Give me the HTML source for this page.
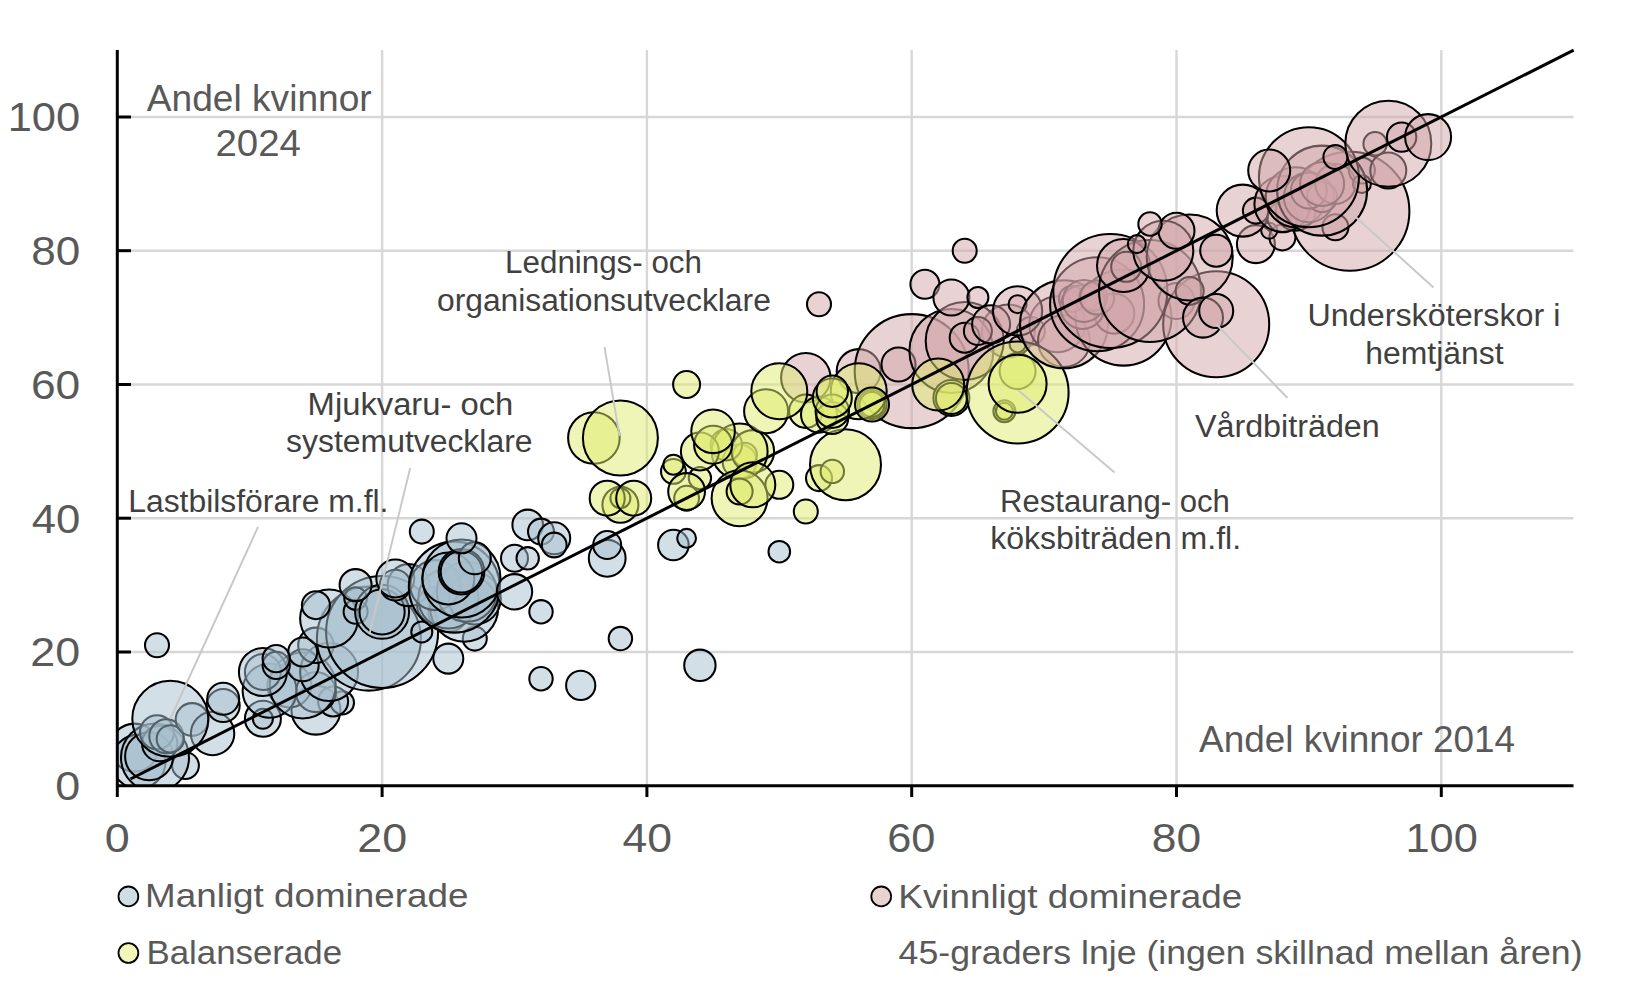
<!DOCTYPE html>
<html lang="sv"><head><meta charset="utf-8"><title>Andel kvinnor 2014 och 2024</title>
<style>
html,body{margin:0;padding:0;background:#fff;}
body{width:1647px;height:990px;overflow:hidden;font-family:"Liberation Sans",sans-serif;}
svg{display:block}
text{font-family:"Liberation Sans",sans-serif;}
.ax{font-size:41px;fill:#595959}
.ttl{font-size:37.3px;fill:#595959}
.lab{font-size:31px;fill:#404040}
.leg{font-size:34px;fill:#595959}
.b{stroke:#000;stroke-width:2.05}
</style></head><body>
<svg width="1647" height="990" viewBox="0 0 1647 990">
<defs><clipPath id="plot"><rect x="117.3" y="40" width="1470" height="745.7"/></clipPath></defs>
<rect width="1647" height="990" fill="#fff"/>
<g stroke="#d7d7d7" stroke-width="2.4" fill="none"><line x1="382.1" y1="50" x2="382.1" y2="785.7"/><line x1="117.3" y1="652.0" x2="1573.5" y2="652.0"/><line x1="646.9" y1="50" x2="646.9" y2="785.7"/><line x1="117.3" y1="518.2" x2="1573.5" y2="518.2"/><line x1="911.7" y1="50" x2="911.7" y2="785.7"/><line x1="117.3" y1="384.5" x2="1573.5" y2="384.5"/><line x1="1176.5" y1="50" x2="1176.5" y2="785.7"/><line x1="117.3" y1="250.7" x2="1573.5" y2="250.7"/><line x1="1441.3" y1="50" x2="1441.3" y2="785.7"/><line x1="117.3" y1="117.0" x2="1573.5" y2="117.0"/></g>
<g class="b" clip-path="url(#plot)">
<circle cx="185.5" cy="765.6" r="13.4" fill="rgba(167,191,205,0.50)"/>
<circle cx="134.5" cy="747.6" r="24.0" fill="rgba(167,191,205,0.50)"/>
<circle cx="138.5" cy="761.6" r="27.0" fill="rgba(167,191,205,0.50)"/>
<circle cx="155.0" cy="757.6" r="34.0" fill="rgba(167,191,205,0.50)"/>
<circle cx="149.1" cy="756.3" r="24.0" fill="rgba(167,191,205,0.50)"/>
<circle cx="159.7" cy="743.6" r="17.7" fill="rgba(167,191,205,0.50)"/>
<circle cx="157.0" cy="732.2" r="17.0" fill="rgba(167,191,205,0.50)"/>
<circle cx="166.3" cy="736.2" r="17.0" fill="rgba(167,191,205,0.50)"/>
<circle cx="170.3" cy="738.9" r="13.6" fill="rgba(167,191,205,0.50)"/>
<circle cx="192.1" cy="719.5" r="16.4" fill="rgba(167,191,205,0.50)"/>
<circle cx="212.6" cy="733.5" r="21.7" fill="rgba(167,191,205,0.50)"/>
<circle cx="223.2" cy="705.5" r="16.5" fill="rgba(167,191,205,0.50)"/>
<circle cx="170.3" cy="718.8" r="38.0" fill="rgba(167,191,205,0.50)"/>
<circle cx="223.2" cy="698.8" r="16.0" fill="rgba(167,191,205,0.50)"/>
<circle cx="157.0" cy="645.3" r="12.0" fill="rgba(167,191,205,0.50)"/>
<circle cx="262.9" cy="718.8" r="18.0" fill="rgba(167,191,205,0.50)"/>
<circle cx="262.9" cy="718.8" r="10.0" fill="rgba(167,191,205,0.50)"/>
<circle cx="315.9" cy="710.1" r="24.5" fill="rgba(167,191,205,0.50)"/>
<circle cx="342.4" cy="702.8" r="11.6" fill="rgba(167,191,205,0.50)"/>
<circle cx="333.1" cy="701.4" r="15.0" fill="rgba(167,191,205,0.50)"/>
<circle cx="289.4" cy="685.4" r="22.0" fill="rgba(167,191,205,0.50)"/>
<circle cx="315.9" cy="692.1" r="20.0" fill="rgba(167,191,205,0.50)"/>
<circle cx="269.6" cy="690.7" r="27.0" fill="rgba(167,191,205,0.50)"/>
<circle cx="302.7" cy="685.4" r="33.0" fill="rgba(167,191,205,0.50)"/>
<circle cx="329.1" cy="672.0" r="29.0" fill="rgba(167,191,205,0.50)"/>
<circle cx="262.9" cy="672.0" r="18.0" fill="rgba(167,191,205,0.50)"/>
<circle cx="262.9" cy="672.0" r="24.0" fill="rgba(167,191,205,0.50)"/>
<circle cx="302.7" cy="665.3" r="16.0" fill="rgba(167,191,205,0.50)"/>
<circle cx="276.2" cy="665.3" r="13.6" fill="rgba(167,191,205,0.50)"/>
<circle cx="315.9" cy="645.3" r="17.7" fill="rgba(167,191,205,0.50)"/>
<circle cx="302.7" cy="652.0" r="14.5" fill="rgba(167,191,205,0.50)"/>
<circle cx="276.2" cy="658.6" r="13.6" fill="rgba(167,191,205,0.50)"/>
<circle cx="368.9" cy="638.6" r="52.0" fill="rgba(167,191,205,0.50)"/>
<circle cx="382.1" cy="631.9" r="56.0" fill="rgba(167,191,205,0.50)"/>
<circle cx="329.1" cy="618.5" r="29.0" fill="rgba(167,191,205,0.50)"/>
<circle cx="315.9" cy="605.2" r="14.0" fill="rgba(167,191,205,0.50)"/>
<circle cx="355.6" cy="611.8" r="12.0" fill="rgba(167,191,205,0.50)"/>
<circle cx="355.6" cy="598.5" r="11.3" fill="rgba(167,191,205,0.50)"/>
<circle cx="382.1" cy="611.8" r="27.0" fill="rgba(167,191,205,0.50)"/>
<circle cx="382.1" cy="611.8" r="22.6" fill="rgba(167,191,205,0.50)"/>
<circle cx="408.6" cy="585.1" r="21.0" fill="rgba(167,191,205,0.50)"/>
<circle cx="395.3" cy="585.1" r="15.4" fill="rgba(167,191,205,0.50)"/>
<circle cx="395.3" cy="578.4" r="19.0" fill="rgba(167,191,205,0.50)"/>
<circle cx="355.6" cy="585.1" r="16.0" fill="rgba(167,191,205,0.50)"/>
<circle cx="421.8" cy="631.9" r="10.5" fill="rgba(167,191,205,0.50)"/>
<circle cx="474.8" cy="638.6" r="12.0" fill="rgba(167,191,205,0.50)"/>
<circle cx="448.3" cy="611.8" r="20.0" fill="rgba(167,191,205,0.50)"/>
<circle cx="435.1" cy="605.2" r="18.0" fill="rgba(167,191,205,0.50)"/>
<circle cx="464.2" cy="607.8" r="34.0" fill="rgba(167,191,205,0.50)"/>
<circle cx="448.3" cy="598.5" r="30.0" fill="rgba(167,191,205,0.50)"/>
<circle cx="474.8" cy="598.5" r="26.0" fill="rgba(167,191,205,0.50)"/>
<circle cx="435.1" cy="585.1" r="25.0" fill="rgba(167,191,205,0.50)"/>
<circle cx="466.8" cy="591.8" r="30.0" fill="rgba(167,191,205,0.50)"/>
<circle cx="454.3" cy="587.1" r="45.5" fill="rgba(167,191,205,0.50)"/>
<circle cx="461.5" cy="578.4" r="39.0" fill="rgba(167,191,205,0.50)"/>
<circle cx="448.3" cy="578.4" r="26.0" fill="rgba(167,191,205,0.50)"/>
<circle cx="461.5" cy="571.7" r="22.8" fill="rgba(167,191,205,0.50)"/>
<circle cx="461.5" cy="571.7" r="20.8" fill="rgba(167,191,205,0.50)"/>
<circle cx="474.8" cy="558.3" r="16.0" fill="rgba(167,191,205,0.50)"/>
<circle cx="461.5" cy="538.3" r="15.0" fill="rgba(167,191,205,0.50)"/>
<circle cx="421.8" cy="531.6" r="12.0" fill="rgba(167,191,205,0.50)"/>
<circle cx="448.3" cy="658.6" r="15.0" fill="rgba(167,191,205,0.50)"/>
<circle cx="514.5" cy="591.8" r="17.7" fill="rgba(167,191,205,0.50)"/>
<circle cx="541.0" cy="611.8" r="11.7" fill="rgba(167,191,205,0.50)"/>
<circle cx="514.5" cy="558.3" r="13.5" fill="rgba(167,191,205,0.50)"/>
<circle cx="527.7" cy="558.3" r="11.2" fill="rgba(167,191,205,0.50)"/>
<circle cx="527.7" cy="524.9" r="15.3" fill="rgba(167,191,205,0.50)"/>
<circle cx="541.0" cy="531.6" r="13.0" fill="rgba(167,191,205,0.50)"/>
<circle cx="554.2" cy="538.3" r="16.0" fill="rgba(167,191,205,0.50)"/>
<circle cx="554.2" cy="545.0" r="12.4" fill="rgba(167,191,205,0.50)"/>
<circle cx="607.2" cy="558.3" r="18.4" fill="rgba(167,191,205,0.50)"/>
<circle cx="607.2" cy="545.0" r="14.0" fill="rgba(167,191,205,0.50)"/>
<circle cx="673.4" cy="545.0" r="15.3" fill="rgba(167,191,205,0.50)"/>
<circle cx="686.6" cy="538.3" r="9.4" fill="rgba(167,191,205,0.50)"/>
<circle cx="620.4" cy="638.6" r="11.7" fill="rgba(167,191,205,0.50)"/>
<circle cx="541.0" cy="678.7" r="11.7" fill="rgba(167,191,205,0.50)"/>
<circle cx="580.7" cy="685.4" r="14.6" fill="rgba(167,191,205,0.50)"/>
<circle cx="699.9" cy="665.3" r="15.7" fill="rgba(167,191,205,0.50)"/>
<circle cx="779.3" cy="551.7" r="10.8" fill="rgba(167,191,205,0.50)"/>
<circle cx="805.8" cy="377.8" r="24.7" fill="rgba(209,165,169,0.50)"/>
<circle cx="858.7" cy="371.1" r="22.0" fill="rgba(209,165,169,0.50)"/>
<circle cx="1008.4" cy="331.0" r="26.5" fill="rgba(209,165,169,0.50)"/>
<circle cx="1017.6" cy="344.4" r="8.0" fill="rgba(209,165,169,0.50)"/>
<circle cx="911.7" cy="371.1" r="57.0" fill="rgba(209,165,169,0.50)"/>
<circle cx="898.5" cy="364.4" r="17.0" fill="rgba(209,165,169,0.50)"/>
<circle cx="951.4" cy="351.0" r="42.0" fill="rgba(209,165,169,0.50)"/>
<circle cx="964.7" cy="341.0" r="39.0" fill="rgba(209,165,169,0.50)"/>
<circle cx="964.7" cy="337.7" r="15.0" fill="rgba(209,165,169,0.50)"/>
<circle cx="977.9" cy="331.0" r="14.0" fill="rgba(209,165,169,0.50)"/>
<circle cx="991.1" cy="324.3" r="19.0" fill="rgba(209,165,169,0.50)"/>
<circle cx="819.0" cy="304.2" r="12.0" fill="rgba(209,165,169,0.50)"/>
<circle cx="964.7" cy="250.7" r="12.0" fill="rgba(209,165,169,0.50)"/>
<circle cx="924.9" cy="284.2" r="14.5" fill="rgba(209,165,169,0.50)"/>
<circle cx="951.4" cy="297.5" r="18.0" fill="rgba(209,165,169,0.50)"/>
<circle cx="977.9" cy="297.5" r="10.5" fill="rgba(209,165,169,0.50)"/>
<circle cx="1030.9" cy="331.0" r="14.0" fill="rgba(209,165,169,0.50)"/>
<circle cx="1057.3" cy="324.3" r="28.0" fill="rgba(209,165,169,0.50)"/>
<circle cx="1064.0" cy="341.0" r="26.0" fill="rgba(209,165,169,0.50)"/>
<circle cx="1017.6" cy="310.9" r="24.6" fill="rgba(209,165,169,0.50)"/>
<circle cx="1017.6" cy="304.2" r="9.0" fill="rgba(209,165,169,0.50)"/>
<circle cx="593.9" cy="438.0" r="25.8" fill="rgba(224,235,112,0.50)"/>
<circle cx="620.4" cy="438.0" r="37.5" fill="rgba(224,235,112,0.50)"/>
<circle cx="686.6" cy="384.5" r="13.5" fill="rgba(224,235,112,0.50)"/>
<circle cx="673.4" cy="471.4" r="12.4" fill="rgba(224,235,112,0.50)"/>
<circle cx="673.4" cy="464.7" r="10.0" fill="rgba(224,235,112,0.50)"/>
<circle cx="699.9" cy="478.1" r="11.2" fill="rgba(224,235,112,0.50)"/>
<circle cx="686.6" cy="498.2" r="12.4" fill="rgba(224,235,112,0.50)"/>
<circle cx="686.6" cy="491.5" r="18.4" fill="rgba(224,235,112,0.50)"/>
<circle cx="620.4" cy="504.8" r="18.0" fill="rgba(224,235,112,0.50)"/>
<circle cx="620.4" cy="498.2" r="10.0" fill="rgba(224,235,112,0.50)"/>
<circle cx="607.2" cy="498.2" r="17.5" fill="rgba(224,235,112,0.50)"/>
<circle cx="633.7" cy="498.2" r="17.5" fill="rgba(224,235,112,0.50)"/>
<circle cx="739.6" cy="461.4" r="17.0" fill="rgba(224,235,112,0.50)"/>
<circle cx="744.9" cy="454.7" r="12.0" fill="rgba(224,235,112,0.50)"/>
<circle cx="726.3" cy="444.7" r="15.7" fill="rgba(224,235,112,0.50)"/>
<circle cx="752.8" cy="451.4" r="21.3" fill="rgba(224,235,112,0.50)"/>
<circle cx="739.6" cy="451.4" r="28.0" fill="rgba(224,235,112,0.50)"/>
<circle cx="699.9" cy="451.4" r="19.0" fill="rgba(224,235,112,0.50)"/>
<circle cx="713.1" cy="444.7" r="19.0" fill="rgba(224,235,112,0.50)"/>
<circle cx="713.1" cy="431.3" r="21.8" fill="rgba(224,235,112,0.50)"/>
<circle cx="779.3" cy="484.8" r="14.0" fill="rgba(224,235,112,0.50)"/>
<circle cx="739.6" cy="498.2" r="28.0" fill="rgba(224,235,112,0.50)"/>
<circle cx="739.6" cy="491.5" r="13.0" fill="rgba(224,235,112,0.50)"/>
<circle cx="752.8" cy="484.8" r="22.5" fill="rgba(224,235,112,0.50)"/>
<circle cx="766.1" cy="411.2" r="22.0" fill="rgba(224,235,112,0.50)"/>
<circle cx="805.8" cy="511.5" r="12.0" fill="rgba(224,235,112,0.50)"/>
<circle cx="819.0" cy="478.1" r="13.0" fill="rgba(224,235,112,0.50)"/>
<circle cx="832.3" cy="471.4" r="11.7" fill="rgba(224,235,112,0.50)"/>
<circle cx="845.5" cy="464.7" r="35.5" fill="rgba(224,235,112,0.50)"/>
<circle cx="872.0" cy="404.5" r="14.6" fill="rgba(224,235,112,0.50)"/>
<circle cx="872.0" cy="404.5" r="12.5" fill="rgba(224,235,112,0.50)"/>
<circle cx="858.7" cy="391.2" r="28.0" fill="rgba(224,235,112,0.50)"/>
<circle cx="805.8" cy="411.2" r="16.7" fill="rgba(224,235,112,0.50)"/>
<circle cx="819.0" cy="414.6" r="18.0" fill="rgba(224,235,112,0.50)"/>
<circle cx="779.3" cy="391.2" r="28.0" fill="rgba(224,235,112,0.50)"/>
<circle cx="832.3" cy="417.9" r="16.0" fill="rgba(224,235,112,0.50)"/>
<circle cx="832.3" cy="411.2" r="16.7" fill="rgba(224,235,112,0.50)"/>
<circle cx="832.3" cy="397.9" r="19.5" fill="rgba(224,235,112,0.50)"/>
<circle cx="832.3" cy="391.2" r="15.7" fill="rgba(224,235,112,0.50)"/>
<circle cx="872.0" cy="404.5" r="17.0" fill="rgba(224,235,112,0.50)"/>
<circle cx="1017.6" cy="371.1" r="18.0" fill="rgba(224,235,112,0.50)"/>
<circle cx="1004.4" cy="411.2" r="11.0" fill="rgba(224,235,112,0.50)"/>
<circle cx="1004.4" cy="411.2" r="8.5" fill="rgba(224,235,112,0.50)"/>
<circle cx="951.4" cy="397.9" r="18.0" fill="rgba(224,235,112,0.50)"/>
<circle cx="951.4" cy="398.5" r="15.5" fill="rgba(224,235,112,0.50)"/>
<circle cx="938.2" cy="384.5" r="26.0" fill="rgba(224,235,112,0.50)"/>
<circle cx="1017.6" cy="392.5" r="51.0" fill="rgba(224,235,112,0.50)"/>
<circle cx="1017.6" cy="383.8" r="29.0" fill="rgba(224,235,112,0.50)"/>
<circle cx="1064.0" cy="324.3" r="44.0" fill="rgba(209,165,169,0.50)"/>
<circle cx="1123.5" cy="317.6" r="48.0" fill="rgba(209,165,169,0.50)"/>
<circle cx="1114.3" cy="313.6" r="20.0" fill="rgba(209,165,169,0.50)"/>
<circle cx="1071.9" cy="298.9" r="13.0" fill="rgba(209,165,169,0.50)"/>
<circle cx="1082.5" cy="306.9" r="22.0" fill="rgba(209,165,169,0.50)"/>
<circle cx="1093.1" cy="296.9" r="14.0" fill="rgba(209,165,169,0.50)"/>
<circle cx="1083.8" cy="300.9" r="21.0" fill="rgba(209,165,169,0.50)"/>
<circle cx="1097.1" cy="297.5" r="17.0" fill="rgba(209,165,169,0.50)"/>
<circle cx="1176.5" cy="300.9" r="18.0" fill="rgba(209,165,169,0.50)"/>
<circle cx="1216.2" cy="324.3" r="53.0" fill="rgba(209,165,169,0.50)"/>
<circle cx="1097.1" cy="304.2" r="47.0" fill="rgba(209,165,169,0.50)"/>
<circle cx="1110.3" cy="290.9" r="57.0" fill="rgba(209,165,169,0.50)"/>
<circle cx="1150.0" cy="290.9" r="51.0" fill="rgba(209,165,169,0.50)"/>
<circle cx="1126.2" cy="266.8" r="15.0" fill="rgba(209,165,169,0.50)"/>
<circle cx="1123.5" cy="265.5" r="26.5" fill="rgba(209,165,169,0.50)"/>
<circle cx="1189.7" cy="290.9" r="14.0" fill="rgba(209,165,169,0.50)"/>
<circle cx="1189.7" cy="257.4" r="43.0" fill="rgba(209,165,169,0.50)"/>
<circle cx="1163.3" cy="250.7" r="30.0" fill="rgba(209,165,169,0.50)"/>
<circle cx="1176.5" cy="230.7" r="18.0" fill="rgba(209,165,169,0.50)"/>
<circle cx="1150.0" cy="224.0" r="11.7" fill="rgba(209,165,169,0.50)"/>
<circle cx="1136.8" cy="244.1" r="9.0" fill="rgba(209,165,169,0.50)"/>
<circle cx="1203.0" cy="317.6" r="20.0" fill="rgba(209,165,169,0.50)"/>
<circle cx="1216.2" cy="310.9" r="17.0" fill="rgba(209,165,169,0.50)"/>
<circle cx="1216.2" cy="250.7" r="16.0" fill="rgba(209,165,169,0.50)"/>
<circle cx="1255.9" cy="244.1" r="19.0" fill="rgba(209,165,169,0.50)"/>
<circle cx="1282.4" cy="237.4" r="13.0" fill="rgba(209,165,169,0.50)"/>
<circle cx="1269.2" cy="230.7" r="8.0" fill="rgba(209,165,169,0.50)"/>
<circle cx="1242.7" cy="210.6" r="26.0" fill="rgba(209,165,169,0.50)"/>
<circle cx="1255.9" cy="210.6" r="13.0" fill="rgba(209,165,169,0.50)"/>
<circle cx="1349.9" cy="211.3" r="59.5" fill="rgba(209,165,169,0.50)"/>
<circle cx="1335.4" cy="227.3" r="13.0" fill="rgba(209,165,169,0.50)"/>
<circle cx="1282.4" cy="217.3" r="15.0" fill="rgba(209,165,169,0.50)"/>
<circle cx="1295.7" cy="210.6" r="20.0" fill="rgba(209,165,169,0.50)"/>
<circle cx="1282.4" cy="203.9" r="28.0" fill="rgba(209,165,169,0.50)"/>
<circle cx="1295.7" cy="197.2" r="30.0" fill="rgba(209,165,169,0.50)"/>
<circle cx="1308.9" cy="197.2" r="25.0" fill="rgba(209,165,169,0.50)"/>
<circle cx="1322.1" cy="197.2" r="15.0" fill="rgba(209,165,169,0.50)"/>
<circle cx="1308.9" cy="190.6" r="18.0" fill="rgba(209,165,169,0.50)"/>
<circle cx="1335.4" cy="183.9" r="20.0" fill="rgba(209,165,169,0.50)"/>
<circle cx="1322.1" cy="183.9" r="22.0" fill="rgba(209,165,169,0.50)"/>
<circle cx="1361.9" cy="170.5" r="13.0" fill="rgba(209,165,169,0.50)"/>
<circle cx="1361.9" cy="183.9" r="9.0" fill="rgba(209,165,169,0.50)"/>
<circle cx="1322.1" cy="190.6" r="45.0" fill="rgba(209,165,169,0.50)"/>
<circle cx="1308.9" cy="177.2" r="50.0" fill="rgba(209,165,169,0.50)"/>
<circle cx="1269.2" cy="170.5" r="21.0" fill="rgba(209,165,169,0.50)"/>
<circle cx="1335.4" cy="157.1" r="12.0" fill="rgba(209,165,169,0.50)"/>
<circle cx="1375.1" cy="143.7" r="11.7" fill="rgba(209,165,169,0.50)"/>
<circle cx="1388.3" cy="170.5" r="18.0" fill="rgba(209,165,169,0.50)"/>
<circle cx="1388.3" cy="143.7" r="43.0" fill="rgba(209,165,169,0.50)"/>
<circle cx="1401.6" cy="137.1" r="14.7" fill="rgba(209,165,169,0.50)"/>
<circle cx="1428.1" cy="137.1" r="23.0" fill="rgba(209,165,169,0.50)"/>
</g>
<g stroke="#c8c8c8" stroke-width="1.9" fill="none"><path d="M258,527 L170.5,718.5"/><path d="M410.2,468 L369.5,634"/><path d="M604.5,347 L619.5,436"/><path d="M1018.5,390.5 L1114.5,472.5"/><path d="M1216.5,324.5 L1287.5,398"/><path d="M1349.5,211.5 L1433.5,287.5"/></g>
<line x1="130.5" y1="779.0" x2="1573.7" y2="50.1" stroke="#000" stroke-width="3"/>
<g stroke="#000" stroke-width="3" fill="none"><line x1="117.3" y1="50" x2="117.3" y2="797"/><line x1="116" y1="785.7" x2="1573.5" y2="785.7"/><line x1="382.1" y1="785.7" x2="382.1" y2="797"/><line x1="117.3" y1="652.0" x2="131" y2="652.0"/><line x1="646.9" y1="785.7" x2="646.9" y2="797"/><line x1="117.3" y1="518.2" x2="131" y2="518.2"/><line x1="911.7" y1="785.7" x2="911.7" y2="797"/><line x1="117.3" y1="384.5" x2="131" y2="384.5"/><line x1="1176.5" y1="785.7" x2="1176.5" y2="797"/><line x1="117.3" y1="250.7" x2="131" y2="250.7"/><line x1="1441.3" y1="785.7" x2="1441.3" y2="797"/><line x1="117.3" y1="117.0" x2="131" y2="117.0"/></g>
<text id="t0" class="ax" x="55.36" y="800.1" textLength="24.99" lengthAdjust="spacingAndGlyphs">0</text>
<text id="t1" class="ax" x="30.37" y="666.4" textLength="49.87" lengthAdjust="spacingAndGlyphs">20</text>
<text id="t2" class="ax" x="31.69" y="532.6" textLength="48.56" lengthAdjust="spacingAndGlyphs">40</text>
<text id="t3" class="ax" x="30.90" y="398.9" textLength="49.33" lengthAdjust="spacingAndGlyphs">60</text>
<text id="t4" class="ax" x="31.24" y="265.1" textLength="48.99" lengthAdjust="spacingAndGlyphs">80</text>
<text id="t5" class="ax" x="7.65" y="131.4" textLength="72.55" lengthAdjust="spacingAndGlyphs">100</text>
<text id="t6" class="ax" x="104.65" y="852.3" textLength="24.99" lengthAdjust="spacingAndGlyphs">0</text>
<text id="t7" class="ax" x="357.28" y="852.3" textLength="49.85" lengthAdjust="spacingAndGlyphs">20</text>
<text id="t8" class="ax" x="622.56" y="852.3" textLength="49.54" lengthAdjust="spacingAndGlyphs">40</text>
<text id="t9" class="ax" x="887.25" y="852.3" textLength="48.24" lengthAdjust="spacingAndGlyphs">60</text>
<text id="t10" class="ax" x="1151.84" y="852.3" textLength="49.32" lengthAdjust="spacingAndGlyphs">80</text>
<text id="t11" class="ax" x="1405.51" y="852.3" textLength="72.31" lengthAdjust="spacingAndGlyphs">100</text>
<text id="t12" class="ttl" x="146.80" y="111.0" textLength="224.91" lengthAdjust="spacingAndGlyphs">Andel kvinnor</text>
<text id="t13" class="ttl" x="215.43" y="155.6" textLength="85.51" lengthAdjust="spacingAndGlyphs">2024</text>
<text id="t14" class="ttl" x="1199.00" y="751.7" textLength="316.11" lengthAdjust="spacingAndGlyphs">Andel kvinnor 2014</text>
<text id="t15" class="lab" x="505.14" y="273.1" textLength="196.81" lengthAdjust="spacingAndGlyphs">Lednings- och</text>
<text id="t16" class="lab" x="436.99" y="310.9" textLength="333.82" lengthAdjust="spacingAndGlyphs">organisationsutvecklare</text>
<text id="t17" class="lab" x="307.60" y="414.9" textLength="205.75" lengthAdjust="spacingAndGlyphs">Mjukvaru- och</text>
<text id="t18" class="lab" x="286.13" y="452.2" textLength="246.39" lengthAdjust="spacingAndGlyphs">systemutvecklare</text>
<text id="t19" class="lab" x="128.25" y="511.8" textLength="260.21" lengthAdjust="spacingAndGlyphs">Lastbilsförare m.fl.</text>
<text id="t20" class="lab" x="1307.57" y="326.0" textLength="252.87" lengthAdjust="spacingAndGlyphs">Undersköterskor i</text>
<text id="t21" class="lab" x="1365.36" y="363.9" textLength="138.14" lengthAdjust="spacingAndGlyphs">hemtjänst</text>
<text id="t22" class="lab" x="1194.99" y="436.5" textLength="184.72" lengthAdjust="spacingAndGlyphs">Vårdbiträden</text>
<text id="t23" class="lab" x="999.96" y="511.5" textLength="229.97" lengthAdjust="spacingAndGlyphs">Restaurang- och</text>
<text id="t24" class="lab" x="990.17" y="548.7" textLength="250.96" lengthAdjust="spacingAndGlyphs">köksbiträden m.fl.</text>
<text id="t25" class="leg" x="145.14" y="907.4" textLength="323.31" lengthAdjust="spacingAndGlyphs">Manligt dominerade</text>
<text id="t26" class="leg" x="146.51" y="964.4" textLength="195.55" lengthAdjust="spacingAndGlyphs">Balanserade</text>
<text id="t27" class="leg" x="898.36" y="908.0" textLength="343.77" lengthAdjust="spacingAndGlyphs">Kvinnligt dominerade</text>
<text id="t28" class="leg" x="898.59" y="964.4" textLength="684.01" lengthAdjust="spacingAndGlyphs">45-graders lnje (ingen skillnad mellan åren)</text>
<circle cx="128.4" cy="896.4" r="9.9" fill="#cfdde6" stroke="#000" stroke-width="1.8"/>
<circle cx="128.4" cy="953" r="9.9" fill="#f4f5b9" stroke="#000" stroke-width="1.8"/>
<circle cx="881.2" cy="896.4" r="9.9" fill="#e8d2d4" stroke="#000" stroke-width="1.8"/>
</svg>
</body></html>
